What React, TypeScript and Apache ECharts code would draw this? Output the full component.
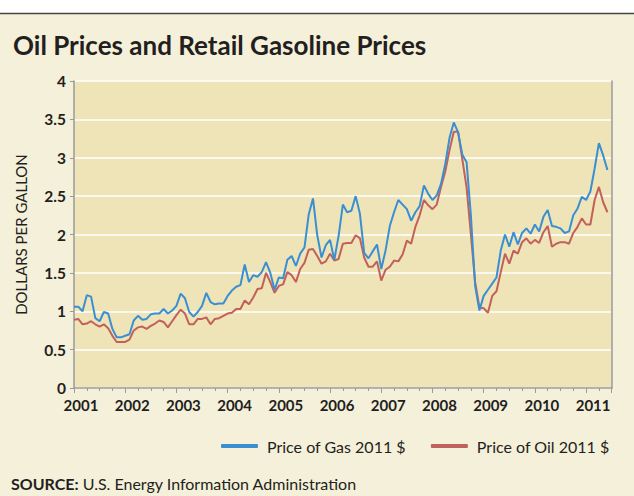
import React, { useEffect, useRef } from "react";
import * as echarts from "echarts";

const startYear = 2001;
const yearTicks = [2001, 2002, 2003, 2004, 2005, 2006, 2007, 2008, 2009, 2010, 2011];

// Monthly values, Jan 2001 - Jun 2011 (dollars per gallon, 2011 $)
const gasPrices = [
  1.06, 1.06, 1.0, 1.21, 1.19, 0.91, 0.87, 0.99, 0.97, 0.77, 0.66, 0.66,
  0.68, 0.7, 0.88, 0.94, 0.89, 0.9, 0.96, 0.97, 0.97, 1.03, 0.97, 1.01,
  1.07, 1.23, 1.17, 0.99, 0.93, 0.99, 1.07, 1.24, 1.12, 1.09, 1.1, 1.1,
  1.2, 1.27, 1.32, 1.34, 1.61, 1.38, 1.47, 1.45, 1.51, 1.64, 1.5, 1.28,
  1.44, 1.43, 1.67, 1.72, 1.59, 1.75, 1.83, 2.26, 2.47, 1.99, 1.7, 1.86,
  1.93, 1.67, 1.98, 2.39, 2.29, 2.31, 2.5, 2.27, 1.76, 1.69, 1.78, 1.87,
  1.55, 1.79, 2.11, 2.29, 2.45, 2.39, 2.33, 2.18, 2.29, 2.37, 2.64, 2.53,
  2.45, 2.51, 2.66, 2.92, 3.26, 3.46, 3.33, 3.04, 2.94, 2.25, 1.33, 1.01,
  1.2, 1.28, 1.36, 1.44, 1.79, 2.0, 1.84, 2.03, 1.87, 2.02, 2.08, 2.01,
  2.13, 2.04, 2.23, 2.32, 2.11, 2.1, 2.08, 2.02, 2.04, 2.25, 2.34, 2.49,
  2.45, 2.56, 2.86, 3.19, 3.03, 2.84,
];

const oilPrices = [
  0.89, 0.9, 0.83, 0.84, 0.87, 0.83, 0.8, 0.83, 0.78, 0.68, 0.6, 0.6,
  0.6, 0.63, 0.75, 0.79, 0.8, 0.77, 0.81, 0.84, 0.88, 0.86, 0.79, 0.87,
  0.95, 1.02, 0.97, 0.83, 0.83, 0.9, 0.9, 0.92, 0.83, 0.9, 0.91, 0.94,
  0.97, 0.98, 1.03, 1.03, 1.14, 1.09, 1.18, 1.29, 1.3, 1.5, 1.38, 1.24,
  1.33, 1.35, 1.51, 1.47, 1.38, 1.55, 1.63, 1.8, 1.81, 1.72, 1.62, 1.65,
  1.75, 1.66, 1.68, 1.88, 1.89, 1.89, 1.99, 1.95, 1.7, 1.58, 1.58, 1.65,
  1.4, 1.54, 1.58, 1.66, 1.65, 1.74, 1.92, 1.88, 2.1, 2.25, 2.45, 2.38,
  2.33, 2.39, 2.62, 2.82, 3.1, 3.34, 3.34, 2.98, 2.61, 2.0, 1.38, 1.05,
  1.04, 0.98, 1.2, 1.26, 1.51, 1.75, 1.62, 1.79, 1.75, 1.9, 1.95, 1.88,
  1.93, 1.89, 2.03, 2.11, 1.84, 1.88, 1.9, 1.9, 1.88, 2.02, 2.1, 2.21,
  2.13, 2.13, 2.45, 2.62, 2.42, 2.29,
];

const seriesNames = ["Price of Gas 2011 $", "Price of Oil 2011 $"];
const titleText = "Oil Prices and Retail Gasoline Prices";
const yAxisName = "DOLLARS PER GALLON";
const sourceLabel = "SOURCE:";
const sourceText = " U.S. Energy Information Administration";

const toPoints = (vals: number[]) => vals.map((v, i) => [startYear + i / 12, v]);

export default function App() {
  const ref = useRef<HTMLDivElement>(null);
  useEffect(() => {
    document.body.style.margin = "0";
    const chart = echarts.init(ref.current!, null, { renderer: "svg" });
    const font = "Lato";
    chart.setOption({
      animation: false,
      backgroundColor: "#f5f0da",
      graphic: [
        { type: "rect", left: 0, top: 0, shape: { width: 634, height: 13 }, style: { fill: "#ffffff" }, silent: true },
        { type: "line", shape: { x1: 0, y1: 13.5, x2: 634, y2: 13.5 }, style: { stroke: "#444444", lineWidth: 1.5 }, silent: true },
        {
          type: "text",
          left: 13,
          top: 32,
          style: { text: titleText, font: `bold 26px ${font}`, fill: "#231f20" },
        },
        {
          type: "text",
          left: 11,
          top: 475,
          style: {
            text: `{b|${sourceLabel}}{r|${sourceText}}`,
            rich: {
              b: { font: `bold 16px ${font}`, fill: "#231f20" },
              r: { font: `16px ${font}`, fill: "#231f20" },
            },
          },
        },
      ],
      legend: {
        left: 221,
        top: 438,
        padding: 0,
        itemWidth: 37,
        itemHeight: 4,
        itemGap: 25,
        icon: "roundRect",
        textStyle: { fontFamily: font, fontSize: 16, color: "#231f20", padding: [0, 0, 0, 4] },
        data: seriesNames,
      },
      grid: {
        left: 74,
        right: 22.3,
        top: 81,
        bottom: 108,
        show: true,
        backgroundColor: "#efe4b8",
        borderWidth: 0,
      },
      xAxis: {
        type: "value",
        min: 2001,
        max: 2011.5,
        interval: 1,
        axisLine: { lineStyle: { color: "#9a9a9a", width: 1.5 } },
        axisTick: { length: 5, lineStyle: { color: "#9a9a9a" } },
        minorTick: { show: true, splitNumber: 4, length: 3, lineStyle: { color: "#9a9a9a" } },
        splitLine: { show: false },
        axisLabel: {
          margin: 9,
          fontFamily: font,
          fontWeight: "bold",
          fontSize: 15,
          color: "#231f20",
          padding: [0, 0, 0, 14],
          formatter: (v: number) => (yearTicks.includes(v) ? String(v) : ""),
        },
      },
      yAxis: [
        {
          type: "value",
          min: 0,
          max: 4,
          interval: 0.5,
          name: yAxisName,
          nameLocation: "middle",
          nameGap: 46,
          nameTextStyle: { fontFamily: font, fontSize: 15, fontWeight: "normal", color: "#231f20" },
          axisLine: { show: true, lineStyle: { color: "#9a9a9a", width: 1.5 } },
          axisTick: { show: true, length: 4, lineStyle: { color: "#9a9a9a" } },
          splitLine: { lineStyle: { color: "#ffffff", width: 1.5 } },
          axisLabel: { margin: 8, fontFamily: font, fontWeight: "bold", fontSize: 15.5, color: "#231f20" },
        },
        {
          type: "value",
          min: 0,
          max: 4,
          position: "right",
          axisLine: { show: true, lineStyle: { color: "#9a9a9a", width: 1.5 } },
          axisTick: { show: false },
          axisLabel: { show: false },
          splitLine: { show: false },
        },
      ],
      series: [
        {
          name: seriesNames[0],
          type: "line",
          data: toPoints(gasPrices),
          showSymbol: false,
          symbol: "none",
          color: "#3a8fd2",
          lineStyle: { width: 2, color: "#3a8fd2" },
          z: 3,
        },
        {
          name: seriesNames[1],
          type: "line",
          data: toPoints(oilPrices),
          showSymbol: false,
          symbol: "none",
          color: "#c2605b",
          lineStyle: { width: 2, color: "#c2605b" },
          z: 2,
        },
      ],
    });
    return () => chart.dispose();
  }, []);
  return <div ref={ref} style={{ width: 634, height: 496, position: "absolute", left: 0, top: 0 }} />;
}
